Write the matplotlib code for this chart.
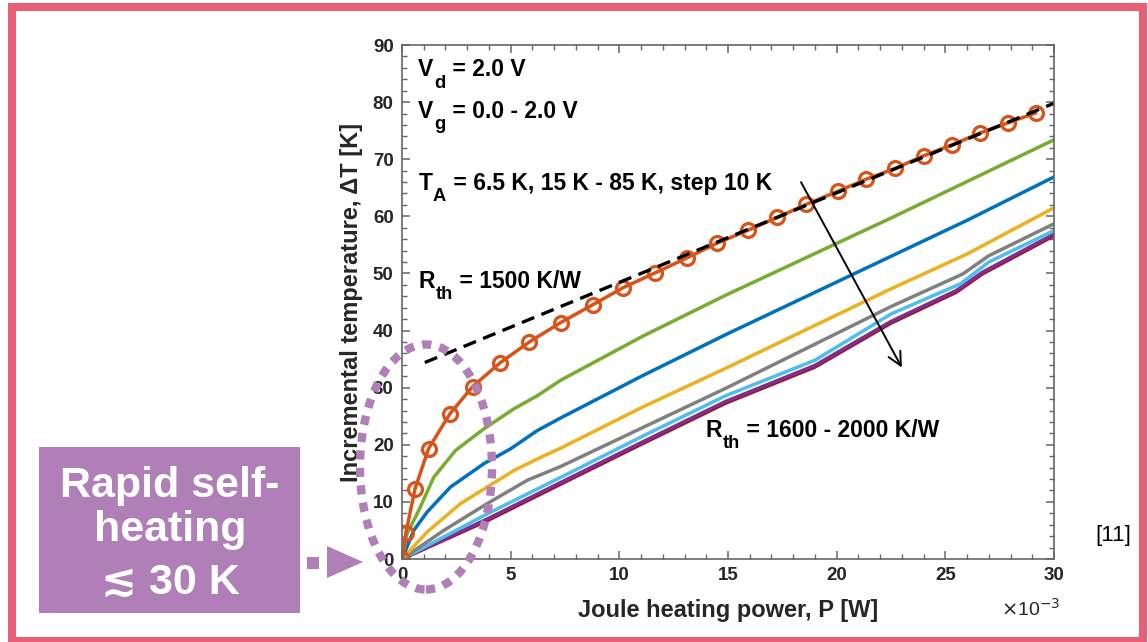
import numpy as np
import matplotlib
matplotlib.use("Agg")
import matplotlib.pyplot as plt
import matplotlib.ticker as mticker
from matplotlib.patches import Rectangle, Ellipse, Polygon

# data: Joule heating power in mW, delta T in K
p_orange = [0, 0.18, 0.6, 1.22, 2.2, 3.25, 4.53, 5.86, 7.3, 8.77, 10.17, 11.65, 13.1,
            14.5, 15.94, 17.27, 18.6, 20.06, 21.36, 22.7, 24.0, 25.3, 26.6, 27.9, 29.15]
t_orange = [0, 4.6, 12.3, 19.3, 25.4, 30.2, 34.4, 38.0, 41.4, 44.5, 47.5, 50.1, 52.7,
            55.3, 57.6, 59.8, 62.1, 64.4, 66.5, 68.4, 70.6, 72.5, 74.6, 76.4, 78.1]

p_green = [0, 0.23, 0.77, 1.46, 2.46, 3.77, 5.15, 6.23, 7.3, 11.07, 14.9, 22.5, 30]
t_green = [0, 4.4, 8.5, 14.3, 19.0, 22.8, 26.3, 28.6, 31.3, 39.0, 46.2, 59.7, 73.4]

p_blue = [0, 0.54, 1.15, 2.23, 3.77, 5.0, 6.23, 7.3, 11.07, 14.9, 22.5, 26.0, 30]
t_blue = [0, 5.0, 8.2, 12.6, 16.7, 19.3, 22.5, 24.7, 32.1, 39.3, 53.0, 59.3, 66.9]

p_yellow = [0, 1.15, 2.69, 3.92, 5.15, 6.38, 7.3, 11.07, 14.9, 22.5, 26.0, 30]
t_yellow = [0, 4.7, 9.7, 12.6, 15.5, 17.8, 19.4, 26.6, 33.4, 47.3, 53.4, 61.5]

p_gray = [0, 1.92, 3.92, 5.77, 7.3, 11.07, 14.9, 22.5, 25.8, 27.0, 30]
t_gray = [0, 5.0, 9.7, 13.8, 16.2, 23.0, 29.9, 44.2, 49.9, 53.1, 58.7]

p_lblue = [0, 3.92, 7.3, 11.07, 14.9, 19.0, 22.5, 25.7, 27.0, 30]
t_lblue = [0, 7.9, 14.3, 21.5, 28.6, 34.8, 42.9, 48.2, 52.0, 57.5]

p_purple = [0, 3.92, 7.3, 11.07, 14.9, 19.0, 22.5, 25.5, 26.7, 30]
t_purple = [0, 7.0, 13.4, 20.5, 27.6, 33.9, 41.6, 47.0, 50.2, 56.9]
t_darkred = [0, 6.7, 13.1, 20.2, 27.3, 33.6, 41.3, 46.7, 49.9, 56.6]

# R_th = 1500 K/W guide line
p_fit = [1.05, 30.0]
t_fit = [34.4, 79.8]

W, H = 1148, 642
FONT = ['Liberation Sans', 'DejaVu Sans']
plt.rcParams['font.family'] = FONT

def fx(x):
    return x / W

def fy(y):
    return 1 - y / H

fig = plt.figure(figsize=(W / 100, H / 100), dpi=100)
fig.patch.set_facecolor('white')
renderer = fig.canvas.get_renderer()

ax = fig.add_axes([fx(402), fy(559), (1054 - 402) / W, (559 - 45) / H])

lw = 2.5
ax.plot(p_purple, t_darkred, color='#A2142F', lw=lw)
ax.plot(p_purple, t_purple, color='#7E2F8E', lw=lw)
ax.plot(p_lblue, t_lblue, color='#4DBEEE', lw=lw)
ax.plot(p_gray, t_gray, color='#808080', lw=lw)
ax.plot(p_yellow, t_yellow, color='#EDB120', lw=lw)
ax.plot(p_blue, t_blue, color='#0072BD', lw=lw)
ax.plot(p_green, t_green, color='#77AC30', lw=lw)
ax.plot(p_orange, t_orange, color='#D95319', lw=lw, marker='o', ms=10,
        mfc='none', mec='#D95319', mew=2.3)
ax.plot(p_fit, t_fit, color='black', lw=2.4, ls=(0, (4.0, 2.3)))

ax.set_xlim(0, 30)
ax.set_ylim(0, 90)
ax.xaxis.set_major_locator(mticker.MultipleLocator(5))
ax.xaxis.set_minor_locator(mticker.MultipleLocator(1))
ax.yaxis.set_major_locator(mticker.MultipleLocator(10))
ax.yaxis.set_minor_locator(mticker.MultipleLocator(2))
ax.tick_params(which='both', direction='in', top=True, right=True, color='#666666')
ax.tick_params(which='major', length=6, width=1.1, labelsize=13.5, labelcolor='#262626', pad=6)
ax.tick_params(which='minor', length=3.5, width=1.0)
for lab in ax.get_xticklabels() + ax.get_yticklabels():
    lab.set_fontweight('bold')
for s in ax.spines.values():
    s.set_color('#666666')
    s.set_linewidth(1.2)

ax.set_xlabel('Joule heating power, P [W]', fontsize=17, fontweight='bold', color='#262626')
ax.set_ylabel('Incremental temperature, ΔT [K]', fontsize=17, fontweight='bold', color='#262626')
ax.xaxis.set_label_coords(0.5, -0.078)
ax.yaxis.set_label_coords(-0.060, 0.5)


def sub_label(x, y, main, sub, rest, size=16.5):
    # big letter, dropped subscript, then the rest of the line
    kw = dict(fontsize=size, fontweight='bold', color='black', va='baseline', ha='left')
    t1 = ax.text(x, y, main, **kw)
    w1 = t1.get_window_extent(renderer).width * 0.72
    t2 = ax.annotate(sub, xy=(x, y), xytext=(w1 + 0.5, -8), textcoords='offset points',
                     fontsize=size * 0.8, fontweight='bold', color='black',
                     va='baseline', ha='left')
    w2 = t2.get_window_extent(renderer).width * 0.72
    ax.annotate(rest, xy=(x, y), xytext=(w1 + w2 + 1.0, 0), textcoords='offset points', **kw)


sub_label(0.75, 84.5, 'V', 'd', ' = 2.0 V')
sub_label(0.75, 77.2, 'V', 'g', ' = 0.0 - 2.0 V')
sub_label(0.75, 64.6, 'T', 'A', ' = 6.5 K, 15 K - 85 K, step 10 K')
sub_label(0.75, 47.4, 'R', 'th', ' = 1500 K/W')
sub_label(13.95, 21.4, 'R', 'th', ' = 1600 - 2000 K/W')

ax.annotate('', xy=(23.06, 33.1), xytext=(18.3, 66.4),
            arrowprops=dict(arrowstyle='->', color='black', lw=1.4, mutation_scale=24))

fig.text(fx(1031), fy(616), r'$\times$10$^{-3}$', fontsize=14, color='#262626',
         ha='center', va='baseline')

# dotted highlight ellipse
ell = Ellipse((fx(426), fy(467)), 132 / W, 245 / H, transform=fig.transFigure,
              fill=False, edgecolor='#B07FB8', lw=6, ls=(0, (1.1, 1.0)), zorder=10)
ell.set_capstyle('butt')
fig.add_artist(ell)

# callout box
box_c = '#B07FB8'
fig.add_artist(Rectangle((fx(39), fy(613)), 261 / W, 166 / H, transform=fig.transFigure,
                         facecolor=box_c, edgecolor='none'))
bt = dict(fontsize=31, fontweight='bold', color='white', ha='center', va='baseline',
          family=FONT)
fig.text(fx(170), fy(497), 'Rapid self-', **bt)
fig.text(fx(170), fy(541), 'heating', **bt)
fig.text(fx(170), fy(594), '≲ 30 K', **bt)
fig.add_artist(Rectangle((fx(307), fy(569)), 12 / W, 12 / H, transform=fig.transFigure,
                         facecolor=box_c, edgecolor='none'))
fig.add_artist(Polygon([(fx(327), fy(546)), (fx(327), fy(578)), (fx(363), fy(562))],
                       closed=True, transform=fig.transFigure, facecolor=box_c,
                       edgecolor='none'))

fig.text(fx(1113), fy(541), '[11]', fontsize=16, color='black', ha='center', va='baseline')

# slide frame
fc = '#E95F75'
for x0, y0, x1, y1 in [(8, 3, 1147, 11), (8, 3, 16, 642), (1139, 3, 1147, 642), (8, 637, 1147, 642)]:
    fig.add_artist(Rectangle((fx(x0), fy(y1)), (x1 - x0) / W, (y1 - y0) / H,
                             transform=fig.transFigure, facecolor=fc, edgecolor='none'))

fig.savefig('out.png', dpi=100)
